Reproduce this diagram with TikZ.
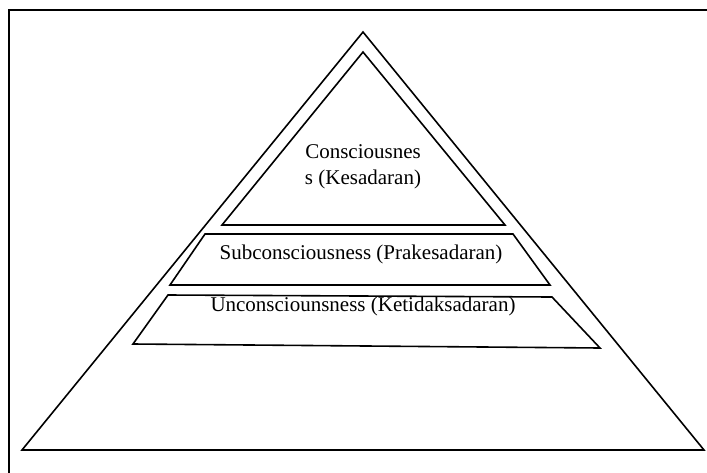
\documentclass[tikz,border=0pt]{standalone}
\usepackage{fontspec}
\setmainfont{Liberation Serif}
\begin{document}
\begin{tikzpicture}[x=1pt,y=-1pt,
  shape line/.style={draw=black,line width=1.6pt,line join=miter},
  lbl/.style={font=\fontsize{21}{26}\selectfont,inner sep=0pt,align=center}]
\useasboundingbox (0,0) rectangle (707,472);
\draw[line width=2pt] (9,480) -- (9,10) -- (715,10);
% outer triangle
\draw[shape line] (363,32) -- (704,450) -- (22,450) -- cycle;
% inner triangle
\draw[shape line] (363,52) -- (505,225) -- (222,225) -- cycle;
% middle trapezoid
\draw[shape line] (205,234) -- (513,234) -- (550,285) -- (170,285) -- cycle;
% bottom trapezoid
\draw[shape line] (168,295) -- (552,297) -- (600,348) -- (133,344) -- cycle;
\node[lbl] (c) at (363,167) {Consciousnes\\s (Kesadaran)};
\node[lbl] (s) at (361,254) {Subconsciousness (Prakesadaran)};
\node[lbl] (u) at (363,306) {Unconsciounsness (Ketidaksadaran)};
\end{tikzpicture}
\end{document}
